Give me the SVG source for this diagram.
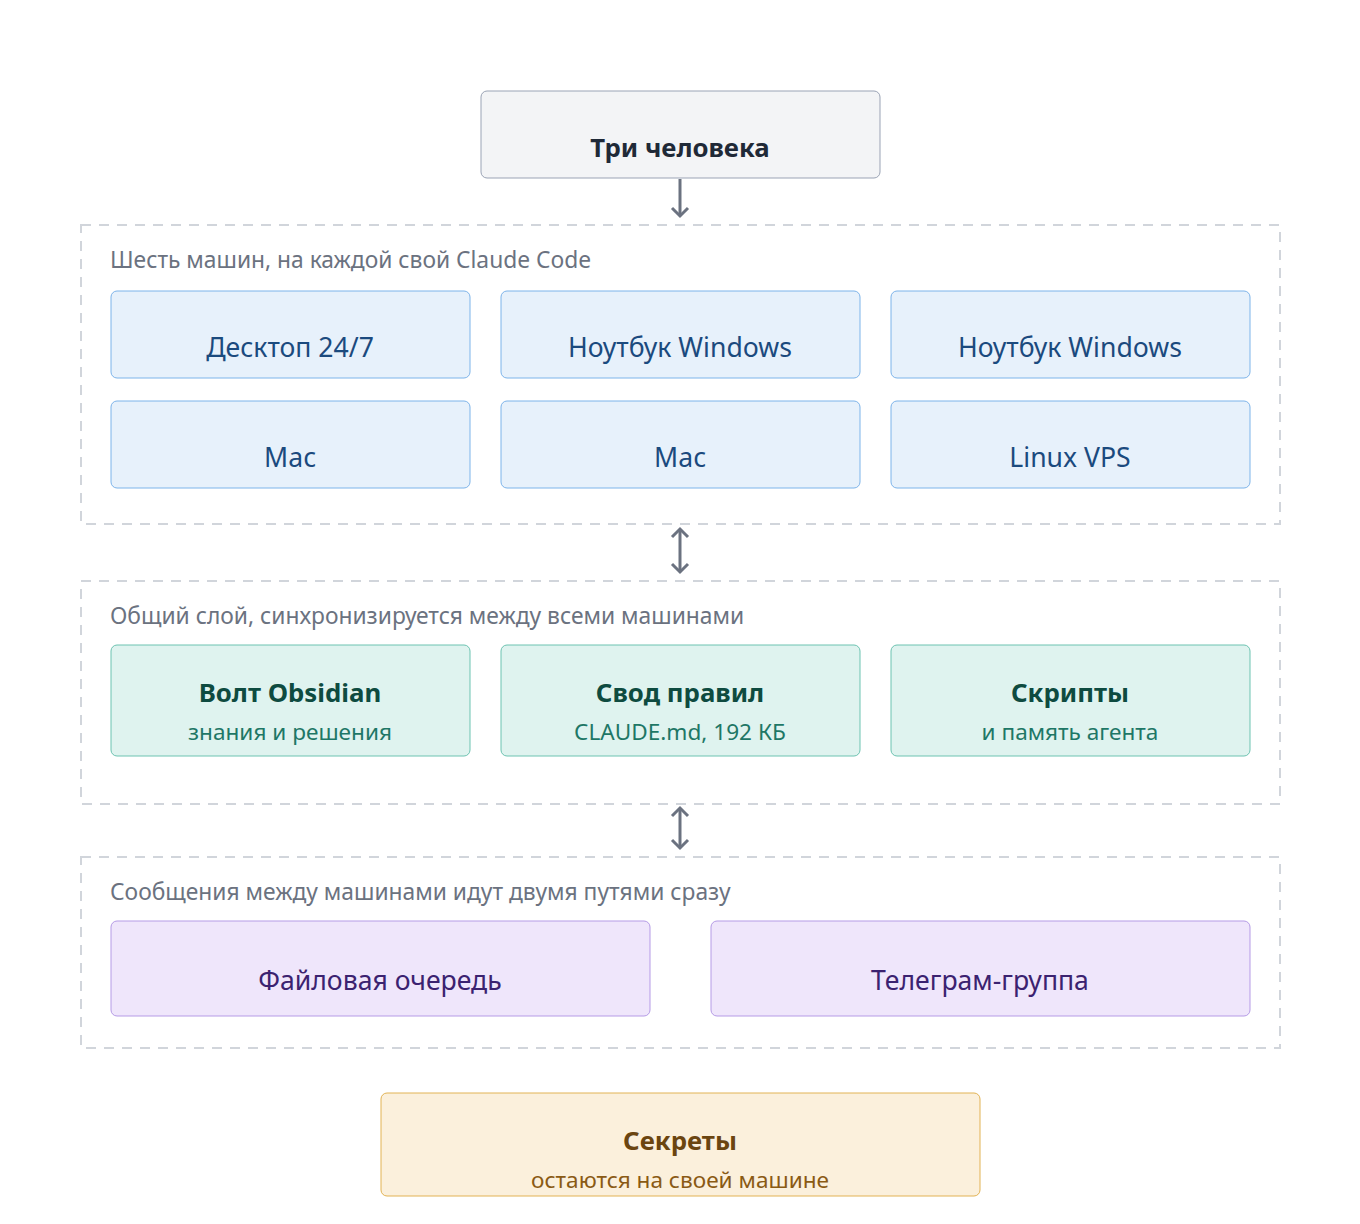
<svg xmlns="http://www.w3.org/2000/svg" width="1360" height="1224" viewBox="0 0 1360 1224">
<defs>
<style>
text{font-family:"Noto Sans","Open Sans","DejaVu Sans",sans-serif;text-anchor:middle}
.grp{fill:none;stroke:#d1d5db;stroke-width:2;stroke-dasharray:10 8}
.glabel{font-size:22.8px;fill:#6b7280;text-anchor:start}
.blue rect{fill:#e7f1fb;stroke:#7db4ea;stroke-width:1}
.blue text{font-size:26.6px;fill:#1b4a7e}
.teal rect{fill:#dff3ef;stroke:#6cc3b1;stroke-width:1}
.teal .t{font-size:25.8px;font-weight:bold;fill:#0e4b40}
.teal .s{font-size:22.6px;fill:#1e7766}
.purple rect{fill:#efe6fb;stroke:#b59be6;stroke-width:1}
.purple text{font-size:26.6px;fill:#3b2270}
.conn{fill:none;stroke:#6b7280;stroke-width:3}
</style>
<marker id="ah" viewBox="0 0 20 20" refX="10" refY="10" markerWidth="20" markerHeight="20" markerUnits="userSpaceOnUse" orient="auto-start-reverse">
<path d="M2 2 L10 10 L2 18" fill="none" stroke="#6b7280" stroke-width="3"/>
</marker>
</defs>
<rect width="1360" height="1224" fill="#ffffff"/>

<g id="people">
<rect x="481" y="91" width="399" height="87" rx="6" fill="#f3f4f6" stroke="#9aa3b5" stroke-width="1"/>
<text x="680" y="157" font-size="25.8" font-weight="bold" fill="#1f2937">Три человека</text>
</g>

<g id="machines-group">
<rect class="grp" x="81" y="225" width="1199" height="299"/>
<text class="glabel" x="110" y="268">Шесть машин, на каждой свой Claude Code</text>
</g>
<g id="m1" class="blue"><rect x="111" y="291" width="359" height="87" rx="6"/><text x="290" y="357">Десктоп 24/7</text></g>
<g id="m2" class="blue"><rect x="501" y="291" width="359" height="87" rx="6"/><text x="680" y="357">Ноутбук Windows</text></g>
<g id="m3" class="blue"><rect x="891" y="291" width="359" height="87" rx="6"/><text x="1070" y="357">Ноутбук Windows</text></g>
<g id="m4" class="blue"><rect x="111" y="401" width="359" height="87" rx="6"/><text x="290" y="467">Mac</text></g>
<g id="m5" class="blue"><rect x="501" y="401" width="359" height="87" rx="6"/><text x="680" y="467">Mac</text></g>
<g id="m6" class="blue"><rect x="891" y="401" width="359" height="87" rx="6"/><text x="1070" y="467">Linux VPS</text></g>

<g id="shared-group">
<rect class="grp" x="81" y="581" width="1199" height="223"/>
<text class="glabel" x="110" y="624">Общий слой, синхронизируется между всеми машинами</text>
</g>
<g id="s1" class="teal"><rect x="111" y="645" width="359" height="111" rx="6"/><text class="t" x="290" y="702">Волт Obsidian</text><text class="s" x="290" y="740">знания и решения</text></g>
<g id="s2" class="teal"><rect x="501" y="645" width="359" height="111" rx="6"/><text class="t" x="680" y="702">Свод правил</text><text class="s" x="680" y="740">CLAUDE.md, 192 КБ</text></g>
<g id="s3" class="teal"><rect x="891" y="645" width="359" height="111" rx="6"/><text class="t" x="1070" y="702">Скрипты</text><text class="s" x="1070" y="740">и память агента</text></g>

<g id="messages-group">
<rect class="grp" x="81" y="857" width="1199" height="191"/>
<text class="glabel" x="110" y="900">Сообщения между машинами идут двумя путями сразу</text>
</g>
<g id="q1" class="purple"><rect x="111" y="921" width="539" height="95" rx="6"/><text x="380" y="990">Файловая очередь</text></g>
<g id="q2" class="purple"><rect x="711" y="921" width="539" height="95" rx="6"/><text x="980" y="990">Телеграм-группа</text></g>

<g id="secrets">
<rect x="381" y="1093" width="599" height="103" rx="6" fill="#fbf0dc" stroke="#e2b354" stroke-width="1"/>
<text x="680" y="1150" font-size="25.8" font-weight="bold" fill="#6b4510">Секреты</text>
<text x="680" y="1188" font-size="22.6" fill="#8a5a14">остаются на своей машине</text>
</g>

<g id="connectors">
<line class="conn" x1="680" y1="179" x2="680" y2="216" marker-end="url(#ah)"/>
<line class="conn" x1="680" y1="529" x2="680" y2="572" marker-start="url(#ah)" marker-end="url(#ah)"/>
<line class="conn" x1="680" y1="808" x2="680" y2="848" marker-start="url(#ah)" marker-end="url(#ah)"/>
</g>
</svg>
